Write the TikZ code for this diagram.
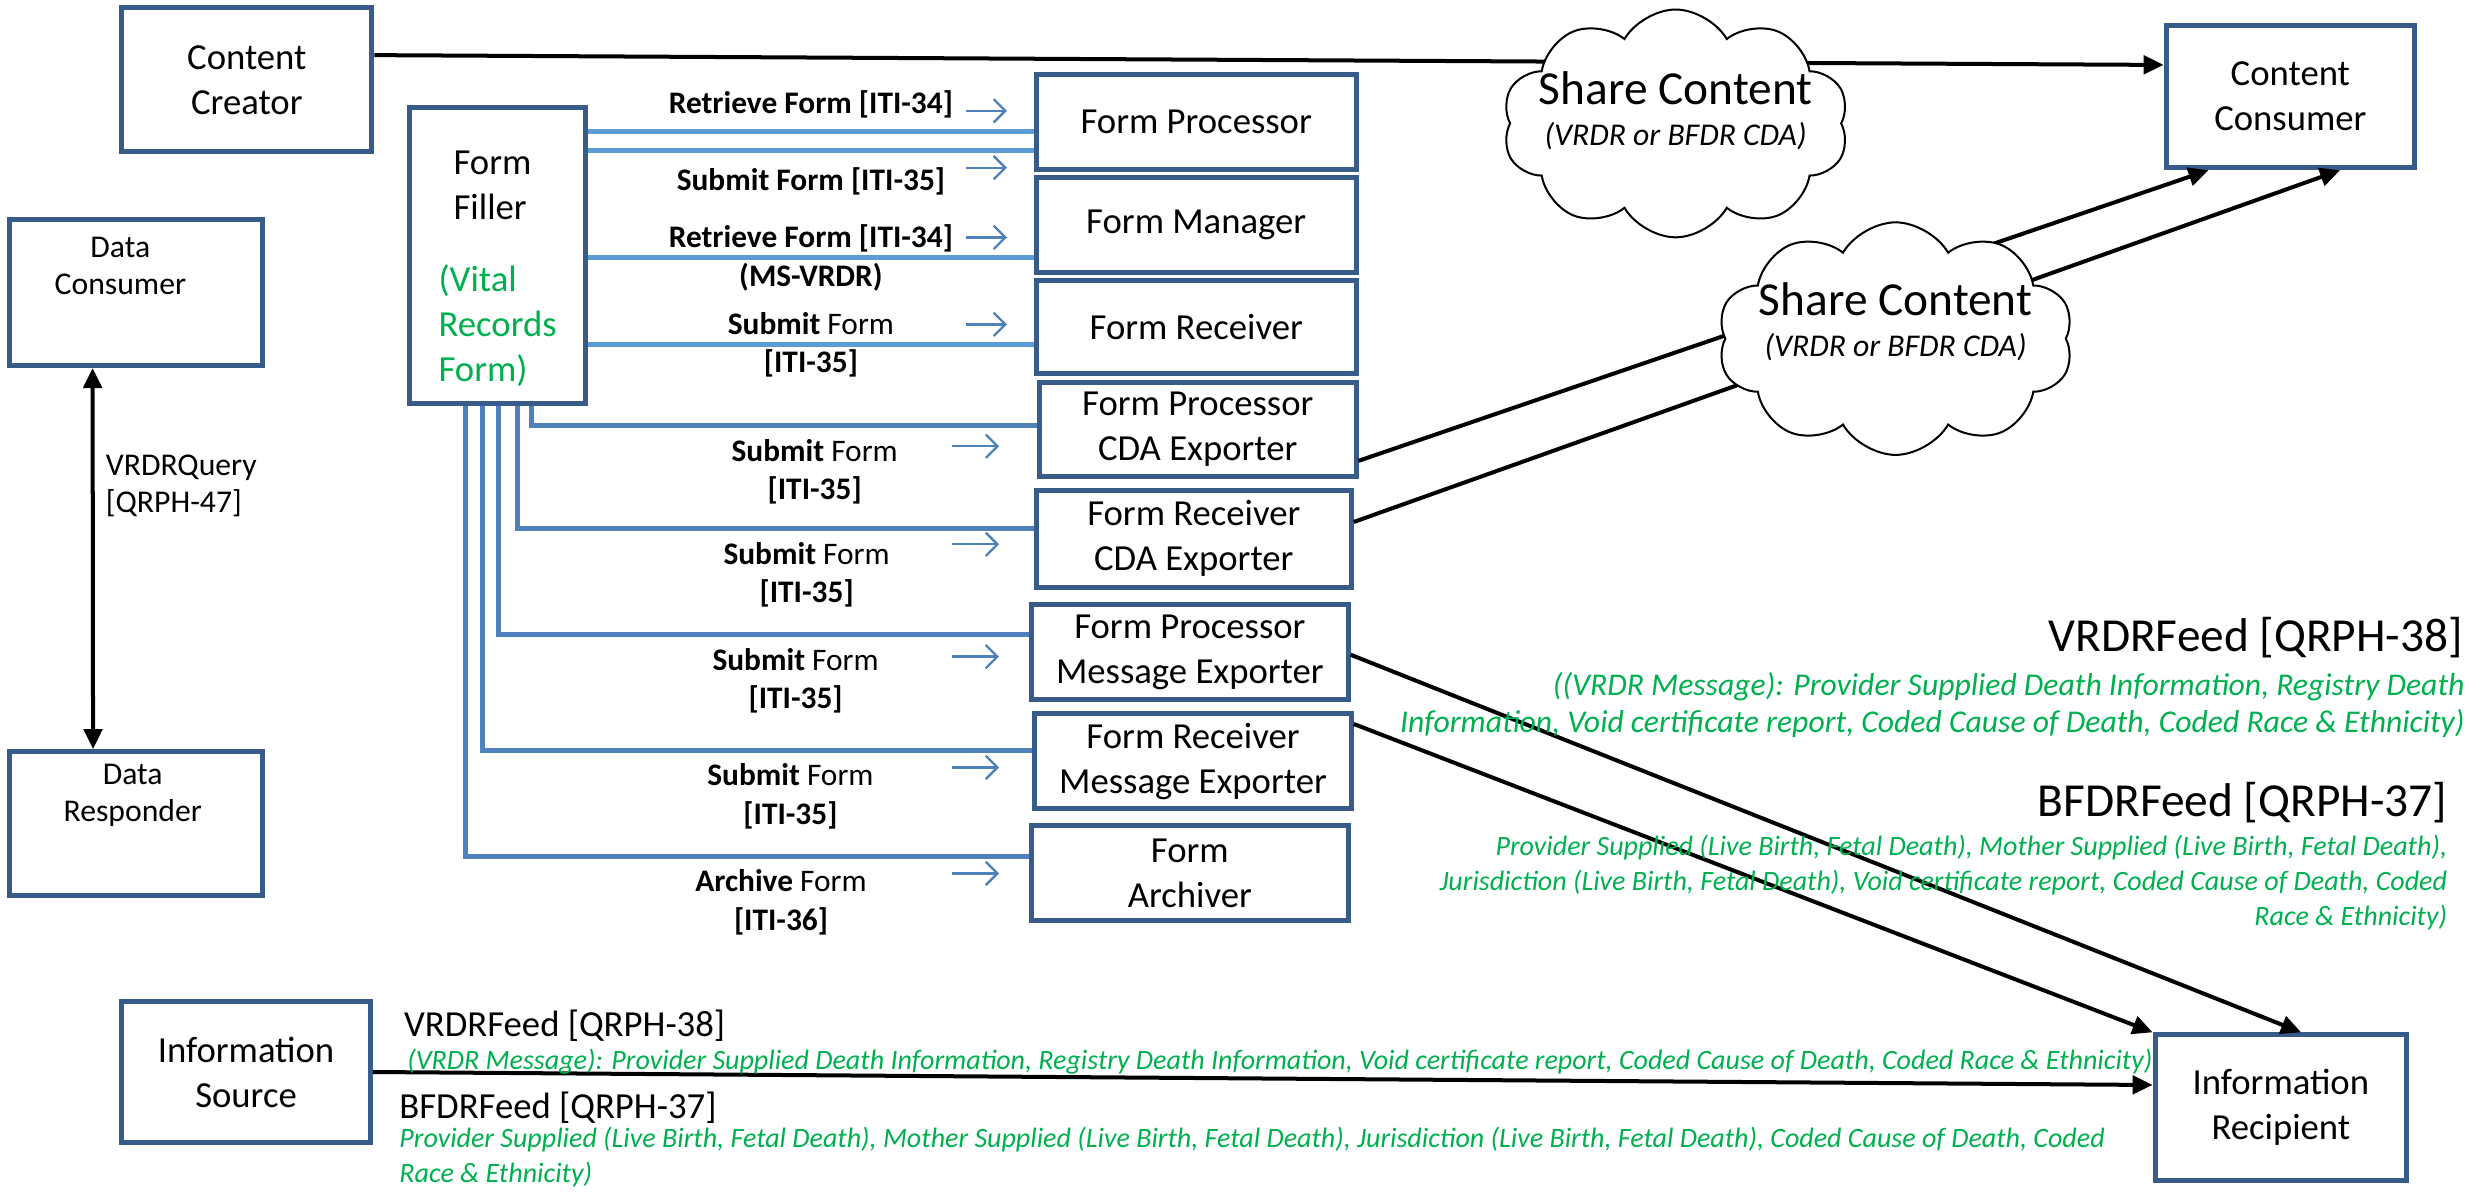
\documentclass[tikz,border=0pt]{standalone}
\usepackage{fontspec}
\setmainfont{Carlito}
\usepackage{tikz}
\usetikzlibrary{arrows.meta,shapes.symbols}
\definecolor{boxblue}{rgb}{0.22, 0.36, 0.54}
\definecolor{linkblue}{rgb}{0.36, 0.61, 0.84}
\definecolor{steelblue}{rgb}{0.31, 0.51, 0.74}
\definecolor{officegreen}{rgb}{0.0, 0.69, 0.31}

\begin{document}
\begin{tikzpicture}[x=0.1667mm,y=-0.1667mm,
    blk/.style={draw=boxblue,line width=1.5pt,fill=white,inner sep=0pt,align=center,
      font=\fontsize{11pt}{13.5pt}\selectfont},
    act/.style={align=center,font=\bfseries\fontsize{9.4pt}{11.5pt}\selectfont},
    actmix/.style={align=center,font=\fontsize{9.4pt}{11.5pt}\selectfont},
    feed/.style={draw=linkblue,line width=1.5pt},
    feedlow/.style={draw=steelblue,line width=1.5pt},
    tick/.style={draw=steelblue,line width=0.7pt,-{Straight Barb[length=3.5pt,width=7pt]}},
    msg/.style={draw,line width=1.2pt,-{Triangle[length=6pt,width=5.5pt]}},
    puff/.style={cloud,cloud puffs=10,cloud puff arc=120,aspect=1.7,draw,line width=0.6pt,fill=white},
    puffname/.style={align=center,inner sep=0pt,font=\fontsize{14.2pt}{12.3pt}\selectfont},
    feedname/.style={inner sep=0pt,font=\fontsize{14.2pt}{17pt}\selectfont},
    note/.style={inner sep=0pt,text=officegreen,font=\itshape\fontsize{8.4pt}{10.5pt}\selectfont},
    query/.style={align=left,font=\fontsize{9.5pt}{11pt}\selectfont}]
\useasboundingbox (0,0) rectangle (1568,753);

% actors
\node[blk,minimum width=26.34mm,minimum height=15.17mm] (cc) at (156,50.5) {Content\\Creator};
\node[blk,minimum width=18.5mm,minimum height=31.17mm,align=left] (ff) at (314.5,161.5) {\hspace{4.5pt}\rule{0pt}{15pt}Form\\\hspace{4.5pt}Filler\\[8pt]\textcolor{officegreen}{(Vital}\\\textcolor{officegreen}{Records}\\\textcolor{officegreen}{Form)}};
\node[blk,minimum width=26.67mm,minimum height=15.34mm,label={[query,align=center,anchor=north,xshift=-4.7pt,yshift=-2.5pt]north:Data\\Consumer}] (dc) at (86,185) {};
\node[blk,minimum width=26.67mm,minimum height=15.17mm,label={[query,align=center,anchor=north,xshift=-1pt,yshift=-1pt]north:Data\\Responder}] (dr) at (86,520.5) {};
\node[blk,minimum width=33.67mm,minimum height=10mm] (fp) at (756,77) {Form Processor};
\node[blk,minimum width=33.67mm,minimum height=10mm] (fm) at (756,142) {Form Manager};
\node[blk,minimum width=33.67mm,minimum height=9.83mm] (fr) at (756,206.5) {Form Receiver};
\node[blk,minimum width=33.34mm,minimum height=9.83mm] (fpc) at (757,271.5) {Form Processor\\CDA Exporter};
\node[blk,minimum width=33.17mm,minimum height=10.17mm] (frc) at (754.5,340.5) {Form Receiver\\CDA Exporter};
\node[blk,minimum width=33.34mm,minimum height=10mm] (fpm) at (752,412) {Form Processor\\Message Exporter};
\node[blk,minimum width=33.34mm,minimum height=10mm] (frm) at (754,481) {Form Receiver\\Message Exporter};
\node[blk,minimum width=33.34mm,minimum height=10mm] (fa) at (752,552) {Form\\Archiver};
\node[blk,minimum width=26.17mm,minimum height=15mm] (ccon) at (1447.5,61) {Content\\Consumer};
\node[blk,minimum width=26.5mm,minimum height=15.34mm] (ir) at (1441.5,700) {Information\\Recipient};
\node[blk,minimum width=26.17mm,minimum height=14.84mm] (is) at (155.5,677.5) {Information\\Source};

% form transactions
\draw[feed] (ff.east |- 0,83) -- node[act,above]{Retrieve Form [ITI-34]} (fp.west |- 0,83);
\draw[feed] (ff.east |- 0,95) -- node[act,below=1pt]{Submit Form [ITI-35]} (fp.west |- 0,95);
\draw[feed] (ff.east |- 0,163) -- node[act]{Retrieve Form [ITI-34]\\(MS-VRDR)} (fm.west |- 0,163);
\draw[feed] (ff.east |- 0,218) -- node[actmix]{\textbf{Submit} Form\\\textbf{[ITI-35]}} (fr.west |- 0,218);
\draw[feedlow] (336,0 |- ff.south) |- node[actmix,pos=0.78,below]{\textbf{Submit} Form\\\textbf{[ITI-35]}} (fpc.west |- 0,269);
\draw[feedlow] (327,0 |- ff.south) |- node[actmix,pos=0.78,below]{\textbf{Submit} Form\\\textbf{[ITI-35]}} (frc.west |- 0,334);
\draw[feedlow] (315,0 |- ff.south) |- node[actmix,pos=0.78,below]{\textbf{Submit} Form\\\textbf{[ITI-35]}} (fpm.west |- 0,401);
\draw[feedlow] (305,0 |- ff.south) |- node[actmix,pos=0.78,below]{\textbf{Submit} Form\\\textbf{[ITI-35]}} (frm.west |- 0,474);
\draw[feedlow] (294,0 |- ff.south) |- node[actmix,pos=0.78,below]{\textbf{Archive} Form\\\textbf{[ITI-36]}} (fa.west |- 0,541);

\draw[tick] ([shift={(-43,-7)}]fp.west) -- ++(26,0);
\draw[tick] ([shift={(-43,29)}]fp.west) -- ++(26,0);
\draw[tick] ([shift={(-43,8)}]fm.west) -- ++(26,0);
\draw[tick] ([shift={(-43,-1.5)}]fr.west) -- ++(26,0);
\draw[tick] ([shift={(-54,10.5)}]fpc.west) -- ++(30,0);
\draw[tick] ([shift={(-52,3.5)}]frc.west) -- ++(30,0);
\draw[tick] ([shift={(-49,3)}]fpm.west) -- ++(30,0);
\draw[tick] ([shift={(-51,4)}]frm.west) -- ++(30,0);
\draw[tick] ([shift={(-49,0)}]fa.west) -- ++(30,0);

% content and feeds
\draw[msg] (cc.11) -- (ccon.166);
\draw[msg] (fpc.-11) -- (ccon.222);
\draw[msg] (frc.6) -- (ccon.-56);
\draw[msg] (fpm.-1) -- (ir.75);
\draw[msg] (frm.13) -- (ir.north west);
\draw[msg] (is.east) -- (ir.170);
\draw[msg,{Triangle[length=6pt,width=5.5pt]}-{Triangle[length=6pt,width=5.5pt]}] (dc.-120) -- node[query,right,pos=0.31]{VRDRQuery\\{[QRPH-47]}} (dr.120);

\node[puff,minimum width=36.5mm,minimum height=24mm] (sc1) at (1059,78) {};
\node[puffname] (sc1t) at ([yshift=3.8pt]sc1.center) {Share Content\\{\itshape\fontsize{9.5pt}{12.3pt}\selectfont (VRDR or BFDR CDA)}};
\node[puff,minimum width=37.5mm,minimum height=24.5mm] (sc2) at (1198,214) {};
\node[puffname] (sc2t) at ([yshift=5pt]sc2.center) {Share Content\\{\itshape\fontsize{9.5pt}{12.3pt}\selectfont (VRDR or BFDR CDA)}};

\node[feedname,anchor=east] (vfeed) at (1557,403) {VRDRFeed [QRPH-38]};
\node[note,anchor=east,align=right,font=\itshape\fontsize{9.5pt}{10.9pt}\selectfont] (vnote) at (1558,445.5) {((VRDR Message): Provider Supplied Death Information, Registry Death\\Information, Void certificate report, Coded Cause of Death, Coded Race \& Ethnicity)};
\node[feedname,anchor=east] (bfeed) at (1547,507) {BFDRFeed [QRPH-37]};
\node[note,anchor=east,align=right] (bnote) at (1547,557.5) {Provider Supplied (Live Birth, Fetal Death), Mother Supplied (Live Birth, Fetal Death),\\Jurisdiction (Live Birth, Fetal Death), Void certificate report, Coded Cause of Death, Coded\\Race \& Ethnicity)};

\node[feedname,anchor=west,font=\fontsize{11pt}{13pt}\selectfont] (vfeed2) at (255,648) {VRDRFeed [QRPH-38]};
\node[note,anchor=west] (vnote2) at (257,671) {(VRDR Message): Provider Supplied Death Information, Registry Death Information, Void certificate report, Coded Cause of Death, Coded Race \& Ethnicity)};
\node[feedname,anchor=west,font=\fontsize{11pt}{13pt}\selectfont] (bfeed2) at (252,700) {BFDRFeed [QRPH-37]};
\node[note,anchor=west,align=left] (bnote2) at (252,731) {Provider Supplied (Live Birth, Fetal Death), Mother Supplied (Live Birth, Fetal Death), Jurisdiction (Live Birth, Fetal Death), Coded Cause of Death, Coded\\Race \& Ethnicity)};
\end{tikzpicture}
\end{document}
